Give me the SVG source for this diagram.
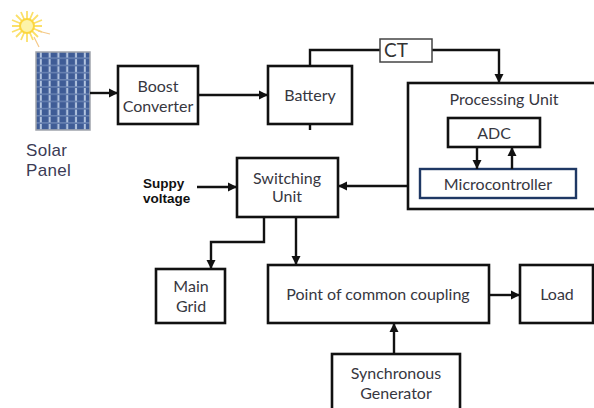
<svg xmlns="http://www.w3.org/2000/svg" width="594" height="408" viewBox="0 0 594 408">
<style>
.b{fill:#fff;stroke:#111;stroke-width:2.6}
.c{fill:none;stroke:#111;stroke-width:2.4;marker-end:url(#a)}
.n{fill:none;stroke:#111;stroke-width:2.4}
.t{font-family:Lato,"Liberation Sans",sans-serif;font-size:16px;fill:#37373f;text-anchor:middle}
.k{font-family:"Liberation Sans",sans-serif;font-size:13.5px;font-weight:bold;fill:#111}
.s{font-family:"Liberation Sans",sans-serif;font-size:17px;letter-spacing:.3px;fill:#3b3b55}
</style>
<defs>
<marker id="a" markerUnits="userSpaceOnUse" markerWidth="11" markerHeight="11" refX="9" refY="5" orient="auto"><path d="M0 0.5L9 5L0 9.5Z" fill="#111"/></marker>
<pattern id="p" x="36" y="52" width="8.8" height="7.2" patternUnits="userSpaceOnUse"><rect width="8.8" height="7.2" fill="#3f5c96"/><rect x="3.8" y="0" width="2" height="5.6" fill="#b4c5e0"/><rect x="0" y="5.8" width="8.8" height="0.8" fill="#8ea5cc"/></pattern>
</defs>
<g id="sun">
<path d="M27 11V42M12 26H42M16 15L38 37M38 15L16 37M21 12L33 40M33 12L21 40M12 20L42 32M42 20L12 32" fill="none" stroke="#fbe06a" stroke-width="1.8"/>
<path d="M38 31L50 34M34 37L39 47" fill="none" stroke="#f5c98a" stroke-width="1.2"/>
<circle cx="27" cy="26" r="7" fill="#fdf3a8" stroke="#fcd63f" stroke-width="2"/>
</g>
<g id="solar-panel"><rect x="36" y="52" width="54" height="78" fill="url(#p)" stroke="#a0a4ac" stroke-width="1.5"/>
<text class="s" x="26" y="156">Solar</text>
<text class="s" x="26" y="176">Panel</text></g>
<g id="connectors">
<path class="c" d="M90 93H118"/>
<path class="c" d="M198 95H268"/>
<path class="n" d="M310 66V50H380"/>
<path class="c" d="M432 50H499V83"/>
<path class="n" d="M310 124V130"/>
<path class="c" d="M408 186H338"/>
<path class="c" d="M197 187H237"/>
<path class="c" d="M264 217V242H211V269"/>
<path class="c" d="M296 217V265"/>
<path class="c" d="M489 295H520"/>
<path class="c" d="M394 354V323"/>
</g>
<g id="boost-converter"><rect class="b" x="118" y="66" width="80" height="58"/><text class="t" x="158" y="92">Boost</text><text class="t" x="158" y="112">Converter</text></g>
<g id="battery"><rect class="b" x="268" y="66" width="84" height="58"/><text class="t" x="310" y="101">Battery</text></g>
<g id="ct"><rect x="380" y="39" width="52" height="23" fill="#fff" stroke="#444" stroke-width="1.5"/><text x="384" y="57" font-family="Lato,Liberation Sans,sans-serif" font-size="19" fill="#333">CT</text></g>
<g id="processing-unit"><rect class="b" x="408" y="83" width="190" height="126"/><text class="t" x="504" y="105">Processing Unit</text></g>
<g id="adc"><rect class="b" x="448" y="118" width="92" height="29"/><text class="t" x="494" y="139">ADC</text></g>
<g id="microcontroller"><rect x="420" y="169" width="156" height="29" fill="#fff" stroke="#1f3864" stroke-width="2.4"/><text class="t" x="498" y="190">Microcontroller</text></g>
<g id="adc-links"><path class="c" d="M477 147V169"/><path class="c" d="M512 169V147"/></g>
<g id="switching-unit"><rect class="b" x="237" y="158" width="101" height="59"/><text class="t" x="287" y="184">Switching</text><text class="t" x="287" y="202">Unit</text></g>
<g id="supply"><text class="k" x="143" y="188">Suppy</text><text class="k" x="143" y="203">voltage</text></g>
<g id="main-grid"><rect class="b" x="156" y="269" width="69" height="54"/><text class="t" x="191" y="292">Main</text><text class="t" x="191" y="312">Grid</text></g>
<g id="pcc"><rect class="b" x="268" y="265" width="221" height="58"/><text class="t" x="378" y="300">Point of common coupling</text></g>
<g id="load"><rect class="b" x="520" y="265" width="73" height="58"/><text class="t" x="557" y="300">Load</text></g>
<g id="synchronous-generator"><rect class="b" x="332" y="354" width="128" height="56"/><text class="t" x="396" y="379">Synchronous</text><text class="t" x="396" y="399">Generator</text></g>
</svg>
